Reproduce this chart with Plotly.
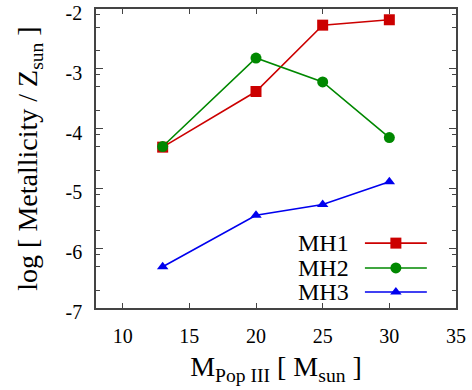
import plotly.graph_objects as go

masses = [13, 20, 25, 30]
mh1 = [-4.31, -3.38, -2.27, -2.18]
mh2 = [-4.30, -2.82, -3.22, -4.15]
mh3 = [-6.31, -5.45, -5.27, -4.89]
series_names = ["MH1", "MH2", "MH3"]
colors = ["#cc0000", "#008800", "#0000ee"]
symbols = ["square", "circle", "triangle-up"]
marker_sizes = [11, 11, 10]

x_ticks = [10, 15, 20, 25, 30, 35]
y_ticks = [-7, -6, -5, -4, -3, -2]
y_tick_text = ["-7", "-6", "-5", "-4", "-3", "-2"]
y_minor = [m + d for m in [-3, -4, -5, -6, -7] for d in [0.301, 0.699, 0.903]]

FONT = "Liberation Serif"
AX = "#444444"

fig = go.Figure()
for name, ys, c, s, ms in zip(series_names, [mh1, mh2, mh3], colors, symbols, marker_sizes):
    fig.add_trace(go.Scatter(x=masses, y=ys, mode="lines+markers", name=name,
                             line=dict(color=c, width=1.6),
                             marker=dict(symbol=s, size=ms, color=c),
                             showlegend=False))

# manual gnuplot-style legend (text left, sample right)
leg_y = [0.217, 0.134, 0.0535]
for name, c, s, ms, yy in zip(series_names, colors, symbols, marker_sizes, leg_y):
    fig.add_trace(go.Scatter(x=[0.747, 0.919], y=[yy, yy], mode="lines",
                             line=dict(color=c, width=1.6), xaxis="x2", yaxis="y2",
                             showlegend=False, hoverinfo="skip"))
    fig.add_trace(go.Scatter(x=[0.833], y=[yy], mode="markers",
                             marker=dict(symbol=s, size=ms, color=c), xaxis="x2", yaxis="y2",
                             showlegend=False, hoverinfo="skip"))
    fig.add_annotation(x=0.708, y=yy, xref="x2", yref="y2", text=name, showarrow=False,
                       xanchor="right", yanchor="middle", font=dict(family=FONT, size=24, color="black"))

fig.update_layout(
    width=472, height=390,
    margin=dict(l=96, r=16, t=9, b=82),
    paper_bgcolor="white", plot_bgcolor="white",
    font=dict(family=FONT, color="black"),
    xaxis=dict(range=[8, 35], tickvals=x_ticks, ticks="inside", ticklen=5, tickcolor=AX,
               showline=True, linecolor=AX, linewidth=1.5, mirror="ticks", showgrid=False,
               zeroline=False, tickfont=dict(size=20, family=FONT), ticklabelstandoff=9,
               automargin=False, ticklabeloverflow="allow",
               title=dict(text="M<sub>Pop III</sub> [ M<sub>sun</sub> ]", font=dict(size=28, family=FONT), standoff=11)),
    yaxis=dict(range=[-7, -2], tickvals=y_ticks, ticktext=y_tick_text, ticks="inside", ticklen=7, tickcolor=AX,
               showline=True, linecolor=AX, linewidth=1.5, mirror="ticks", showgrid=False,
               zeroline=False, tickfont=dict(size=20, family=FONT), ticklabelstandoff=8,
               automargin=False, ticklabeloverflow="allow", ticklabelshift=4,
               minor=dict(tickmode="array", tickvals=y_minor, ticks="inside", ticklen=4, tickcolor=AX),
               title=dict(text="log [ Metallicity / Z<sub>sun</sub> ]", font=dict(size=28, family=FONT), standoff=20)),
    xaxis2=dict(range=[0, 1], overlaying="x", visible=False, fixedrange=True),
    yaxis2=dict(range=[0, 1], overlaying="y", visible=False, fixedrange=True),
)

fig.write_html("out.html", config={"displayModeBar": False},
               post_script="document.body.style.margin='0';")
